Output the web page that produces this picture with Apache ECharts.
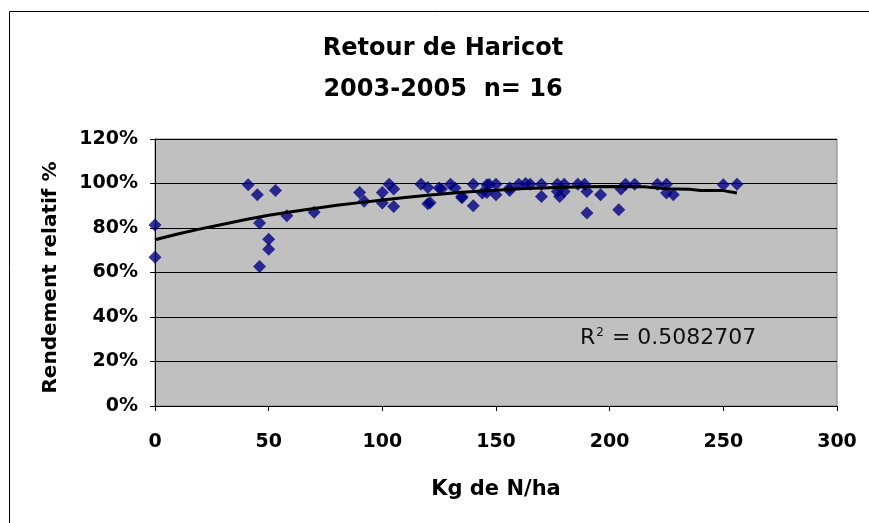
<!DOCTYPE html>
<html>
<head>
<meta charset="utf-8">
<script src="https://cdn.jsdelivr.net/npm/echarts@6/dist/echarts.min.js"></script>
<style>
html, body { margin: 0; padding: 0; background: #fff; }
#chart { width: 869px; height: 523px; }
</style>
</head>
<body>
<div id="chart"></div>
<script>
// points : dose N (kg/ha) et rendement relatif (%)
var doseN = [0, 0, 41, 45, 46, 46, 50, 50, 53, 58, 70, 90, 92, 100, 100, 103, 105, 105,
    117, 120, 120, 121, 125, 126, 130, 132, 135, 135, 140, 140, 144, 146, 146, 147, 150, 150,
    156, 156, 160, 163, 165, 170, 170, 177, 177, 178, 180, 180, 186, 189, 190, 190, 196,
    204, 205, 207, 211, 221, 225, 225, 228, 250, 256];
var rendement = [81.4, 66.9, 99.4, 95, 82.2, 62.7, 75, 70.5, 96.9, 85.5, 87.1, 96, 92, 96, 91.2, 99.7, 97.5, 89.7,
    99.7, 98.2, 90.9, 91.4, 98, 97.5, 99.7, 98, 94.2, 93.6, 99.7, 90, 95.7, 99.4, 95.9, 99.5, 99.7, 95,
    96.9, 98, 99.7, 100, 99.7, 99.7, 94.2, 99.7, 96.4, 94.2, 99.7, 96.4, 99.7, 99.7, 96.4, 86.7, 95,
    88.2, 97.5, 99.7, 99.7, 99.7, 99.7, 95.7, 95, 99.4, 99.7];

// courbe de tendance
var tendanceX = [0, 10, 20, 30, 40, 50, 60, 70, 80, 90, 100, 110, 120, 130, 140, 150, 160, 170,
    180, 190, 200, 215, 225, 235, 240, 250, 256];
var tendanceY = [74.7, 77.3, 79.6, 81.7, 83.8, 85.7, 87.3, 88.8, 90.2, 91.4, 92.6, 93.7, 94.7, 95.6,
    96.4, 97, 97.6, 98, 98.3, 98.5, 98.6, 98.5, 97.6, 97.4, 96.9, 96.8, 95.7];

var titre = 'Retour de Haricot\n2003-2005  n= 16';
var r2 = '0.5082707';

function paires(xs, ys) {
    var out = [];
    for (var i = 0; i < xs.length; i++) {
        out.push([xs[i], ys[i] / 100]);
    }
    return out;
}

var Chart = echarts.init(document.getElementById('chart'));
var police = '"DejaVu Sans", Verdana, sans-serif';

Chart.setOption({
    animation: false,
    backgroundColor: '#fff',
    textStyle: { fontFamily: police },
    title: {
        text: titre,
        left: 438,
        top: 23,
        textAlign: 'center',
        textStyle: {
            fontSize: 24,
            fontWeight: 'bold',
            color: '#000',
            lineHeight: 41,
            fontFamily: police
        }
    },
    grid: {
        left: 155,
        top: 139,
        right: 32,
        bottom: 117,
        show: true,
        backgroundColor: '#c0c0c0',
        borderColor: '#808080',
        borderWidth: 1
    },
    xAxis: {
        type: 'value',
        min: 0,
        max: 300,
        interval: 50,
        name: 'Kg de N/ha',
        nameLocation: 'middle',
        nameGap: 73,
        nameTextStyle: { fontSize: 21, fontWeight: 'bold', color: '#000', fontFamily: police },
        axisLine: { show: true, lineStyle: { color: '#000', width: 1 } },
        axisTick: { show: true, length: 5, lineStyle: { color: '#000' } },
        axisLabel: { fontSize: 19, fontWeight: 'bold', color: '#000', margin: 27, fontFamily: police },
        splitLine: { show: false }
    },
    yAxis: {
        type: 'value',
        min: 0,
        max: 1.2,
        interval: 0.2,
        name: 'Rendement relatif %',
        nameLocation: 'middle',
        nameGap: 94,
        nameTextStyle: { fontSize: 20, fontWeight: 'bold', color: '#000', fontFamily: police, padding: [0, 10, 0, 0] },
        axisLine: { show: true, lineStyle: { color: '#000', width: 1 } },
        axisTick: { show: true, length: 5, lineStyle: { color: '#000' } },
        axisLabel: {
            fontSize: 19, fontWeight: 'bold', color: '#000', margin: 17, fontFamily: police,
            formatter: function (v) { return Math.round(v * 100) + '%'; }
        },
        splitLine: { show: true, lineStyle: { color: '#000', width: 1 } }
    },
    graphic: [
        {
            type: 'rect',
            shape: { x: 9.5, y: 11.5, width: 880, height: 540 },
            style: { fill: null, stroke: '#000', lineWidth: 1 },
            silent: true
        },
        {
            type: 'text',
            left: 580,
            top: 327,
            style: {
                text: '{r|R}{s|2}{r| = ' + r2 + '}',
                rich: {
                    r: { fontSize: 22, fill: '#111', fontFamily: police, verticalAlign: 'bottom' },
                    s: { fontSize: 12, fill: '#111', fontFamily: police, verticalAlign: 'top', padding: [0, 1, 10, 1] }
                }
            }
        }
    ],
    series: [
        {
            name: 'rendement',
            type: 'scatter',
            symbol: 'diamond',
            symbolSize: 13,
            itemStyle: { color: '#000080' },
            data: paires(doseN, rendement),
            z: 3
        },
        {
            name: 'tendance',
            type: 'line',
            showSymbol: false,
            symbol: 'none',
            lineStyle: { color: '#000', width: 3 },
            data: paires(tendanceX, tendanceY),
            z: 4
        }
    ]
});
</script>
</body>
</html>
